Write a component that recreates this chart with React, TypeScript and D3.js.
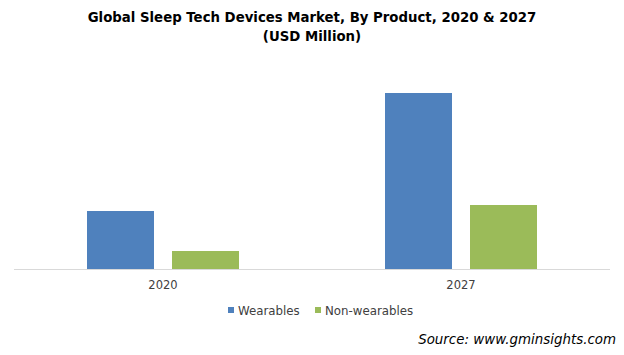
import React from "react";
import * as d3 from "d3";

const categories = ["2020", "2027"];
const seriesNames = ["Wearables", "Non-wearables"];
const wearables = [580, 1760];
const nonWearables = [180, 640];
const colors = ["#4f81bd", "#9bbb59"];

export default function App() {
  const W = 624, H = 355;
  const x0 = d3.scaleBand<string>().domain(categories).range([14, 610]).paddingInner(0).paddingOuter(0);
  const x1 = d3.scaleBand<string>().domain(seriesNames).range([0, x0.bandwidth()]).paddingInner(0.2118).paddingOuter(0.859);
  const y = d3.scaleLinear().domain([0, 2000]).range([269, 69]);
  const data = [wearables, nonWearables];
  const font = "DejaVu Sans, Verdana, sans-serif";
  return (
    <svg width={W} height={H} style={{ position: "absolute", left: 0, top: 0, background: "#fff" }}>
      <text x={312} y={22} textAnchor="middle" fontFamily={font} fontWeight="bold" fontSize={13.3} fill="#000">
        Global Sleep Tech Devices Market, By Product, 2020 &amp; 2027
      </text>
      <text x={312} y={41} textAnchor="middle" fontFamily={font} fontWeight="bold" fontSize={13.3} fill="#000">
        (USD Million)
      </text>
      {categories.map((c, i) =>
        seriesNames.map((s, j) => {
          const v = data[j][i];
          return (
            <rect key={c + s} x={(x0(c) as number) + (x1(s) as number)} y={y(v)} width={x1.bandwidth()} height={y(0) - y(v)} fill={colors[j]} />
          );
        })
      )}
      <line x1={14} x2={610} y1={269.5} y2={269.5} stroke="#d9d9d9" strokeWidth={1} />
      {categories.map((c) => (
        <text key={c} x={(x0(c) as number) + x0.bandwidth() / 2} y={289} textAnchor="middle" fontFamily={font} fontSize={11.5} fill="#404040">
          {c}
        </text>
      ))}
      {seriesNames.map((s, j) => {
        const lx = [228, 315][j];
        return (
          <g key={s}>
            <rect x={lx} y={307} width={6} height={6} fill={colors[j]} />
            <text x={lx + 10} y={315} fontFamily={font} fontSize={11.8} fill="#404040">{s}</text>
          </g>
        );
      })}
      <text x={616} y={344} textAnchor="end" fontFamily={font} fontStyle="italic" fontSize={13.4} fill="#000">
        Source: www.gminsights.com
      </text>
    </svg>
  );
}
